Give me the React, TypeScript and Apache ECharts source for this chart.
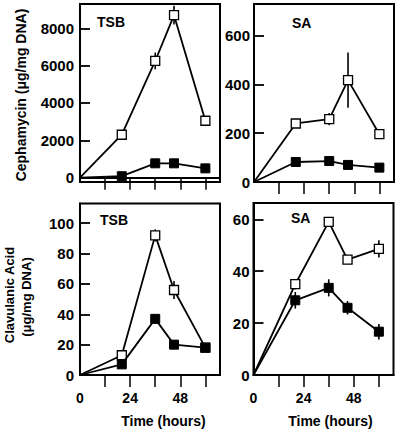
import React, { useEffect, useRef } from "react";
import * as echarts from "echarts";

const timeHours = [0, 20, 36, 45, 60];

const cephTsbOpen = [0, 2300, 6250, 8700, 3050];
const cephTsbOpenErr = [0, 0, 450, 500, 0];
const cephTsbFilled = [0, 80, 770, 770, 500];
const cephTsbFilledErr = [0, 0, 0, 0, 0];

const cephSaOpen = [0, 240, 258, 418, 196];
const cephSaOpenErr = [0, 0, 25, 113, 0];
const cephSaFilled = [0, 82, 86, 70, 59];
const cephSaFilledErr = [0, 0, 0, 0, 0];

const clavTsbOpen = [0, 13, 92, 56, 18];
const clavTsbOpenErr = [0, 0, 4, 6, 0];
const clavTsbFilled = [0, 7, 37, 20, 18];
const clavTsbFilledErr = [0, 0, 3, 3, 0];

const clavSaOpen = [0, 35, 59, 44.5, 48.6];
const clavSaOpenErr = [0, 2, 0, 1.5, 3.3];
const clavSaFilled = [0, 28.8, 33.6, 25.9, 16.7];
const clavSaFilledErr = [0, 3.2, 3.3, 2.6, 3];

const xTickValues = [12, 24, 36, 48, 60];
const xLabelValues = [0, 24, 48];
const cephTsbTicks = [0, 2000, 4000, 6000, 8000];
const cephSaTicks = [0, 200, 400, 600];
const clavTsbTicks = [0, 20, 40, 60, 80, 100];
const clavSaTicks = [0, 20, 40, 60];

const panelLabels = ["TSB", "SA", "TSB", "SA"];
const FONT = '"Liberation Sans", Arial, Helvetica, sans-serif';

export default function App() {
  const ref = useRef<HTMLDivElement>(null);
  useEffect(() => {
    if (!ref.current) return;
    const chart = echarts.init(ref.current, undefined, { renderer: "svg" });

    const grids = [
      { left: 80, top: 4, width: 140, height: 178 },
      { left: 254, top: 4, width: 140, height: 178 },
      { left: 80, top: 203.5, width: 140, height: 171.5 },
      { left: 253.5, top: 203, width: 140, height: 172 },
    ].map((g) => ({
      ...g,
      show: true,
      borderColor: "#000",
      borderWidth: 2,
      backgroundColor: "transparent",
    }));

    const yRanges = [
      { min: -230, max: 9300, ticks: cephTsbTicks, margin: 6 },
      { min: 0, max: 730, ticks: cephSaTicks, margin: 4 },
      { min: 0, max: 113, ticks: clavTsbTicks, margin: 6 },
      { min: 0, max: 66.3, ticks: clavSaTicks, margin: 4 },
    ];

    const xAxes = [0, 1, 2, 3].map((i) => ({
      type: "value",
      gridIndex: i,
      min: 0,
      max: 67,
      axisLine: { show: true, lineStyle: { color: "#000", width: 2 } },
      axisTick: {
        show: true,
        inside: false,
        length: 12,
        customValues: xTickValues,
        lineStyle: { color: "#000", width: 1.5 },
      },
      axisLabel: {
        show: i >= 2,
        customValues: xLabelValues,
        formatter: (v: number) => String(v),
        margin: 16,
        color: "#000",
        fontSize: 14,
        fontWeight: "bold",
        fontFamily: FONT,
      },
      splitLine: { show: false },
    }));

    const yAxes = yRanges.map((r, i) => ({
      type: "value",
      gridIndex: i,
      min: r.min,
      max: r.max,
      axisLine: { show: true, lineStyle: { color: "#000", width: 2 } },
      axisTick: {
        show: true,
        inside: true,
        length: 10,
        customValues: r.ticks,
        lineStyle: { color: "#000", width: 1.8 },
      },
      axisLabel: {
        customValues: r.ticks,
        formatter: (v: number) => String(v),
        margin: r.margin,
        color: "#000",
        fontSize: 15,
        fontWeight: "bold",
        fontFamily: FONT,
      },
      splitLine: { show: false },
    }));

    const panels = [
      { open: cephTsbOpen, openErr: cephTsbOpenErr, filled: cephTsbFilled, filledErr: cephTsbFilledErr },
      { open: cephSaOpen, openErr: cephSaOpenErr, filled: cephSaFilled, filledErr: cephSaFilledErr },
      { open: clavTsbOpen, openErr: clavTsbOpenErr, filled: clavTsbFilled, filledErr: clavTsbFilledErr },
      { open: clavSaOpen, openErr: clavSaOpenErr, filled: clavSaFilled, filledErr: clavSaFilledErr },
    ];

    const series: any[] = [];
    const errRender = (params: any, api: any) => {
      const x = api.value(0);
      const lo = api.coord([x, api.value(1)]);
      const hi = api.coord([x, api.value(2)]);
      return {
        type: "line",
        shape: { x1: lo[0], y1: lo[1], x2: hi[0], y2: hi[1] },
        style: { stroke: "#000", lineWidth: 1.6 },
      };
    };
    panels.forEach((p, i) => {
      const mk = (vals: number[]) =>
        vals.map((v, k) =>
          k === 0 ? { value: [timeHours[k], v], symbol: "none" } : { value: [timeHours[k], v] }
        );
      const errData = (vals: number[], errs: number[]) =>
        vals
          .map((v, k) => [timeHours[k], v - errs[k], v + errs[k]])
          .filter((_, k) => errs[k] > 0);
      series.push({
        type: "custom",
        xAxisIndex: i,
        yAxisIndex: i,
        z: 1,
        renderItem: errRender,
        encode: { x: 0, y: [1, 2] },
        data: [...errData(p.open, p.openErr), ...errData(p.filled, p.filledErr)],
      });
      series.push({
        type: "line",
        xAxisIndex: i,
        yAxisIndex: i,
        z: 3,
        data: mk(p.open),
        symbol: "rect",
        symbolSize: 9,
        showAllSymbol: true,
        lineStyle: { color: "#000", width: 1.8 },
        itemStyle: { color: "#fff", borderColor: "#000", borderWidth: 1.3 },
      });
      series.push({
        type: "line",
        xAxisIndex: i,
        yAxisIndex: i,
        z: 4,
        data: mk(p.filled),
        symbol: "rect",
        symbolSize: 9,
        showAllSymbol: true,
        lineStyle: { color: "#000", width: 1.8 },
        itemStyle: { color: "#000", borderColor: "#000", borderWidth: 1 },
      });
    });

    const labelPos = [
      { x: 97, y: 22 },
      { x: 292, y: 23 },
      { x: 100, y: 220 },
      { x: 291, y: 218 },
    ];
    const txt = (text: string, x: number, y: number, size: number, rot = 0, align = "center") => ({
      type: "text",
      x,
      y,
      rotation: rot,
      style: {
        text,
        fill: "#000",
        font: `bold ${size}px ${FONT}`,
        align,
        verticalAlign: "middle",
      },
      z: 10,
    });

    const graphic = [
      ...panelLabels.map((t, i) => txt(t, labelPos[i].x, labelPos[i].y, 14, 0, "left")),
      txt("Time (hours)", 163.5, 421, 14),
      txt("Time (hours)", 330.5, 421, 14),
      txt("Cephamycin (μg/mg DNA)", 21, 95, 14, Math.PI / 2),
      txt("Clavulanic Acid", 9.5, 295, 13, Math.PI / 2),
      txt("(μg/mg DNA)", 26, 297, 13, Math.PI / 2),
    ];

    chart.setOption({
      animation: false,
      backgroundColor: "#fff",
      grid: grids,
      xAxis: xAxes,
      yAxis: yAxes,
      series,
      graphic,
    });
    return () => chart.dispose();
  }, []);
  return (
    <div
      ref={ref}
      style={{ position: "absolute", left: 0, top: 0, width: 400, height: 434 }}
    />
  );
}
